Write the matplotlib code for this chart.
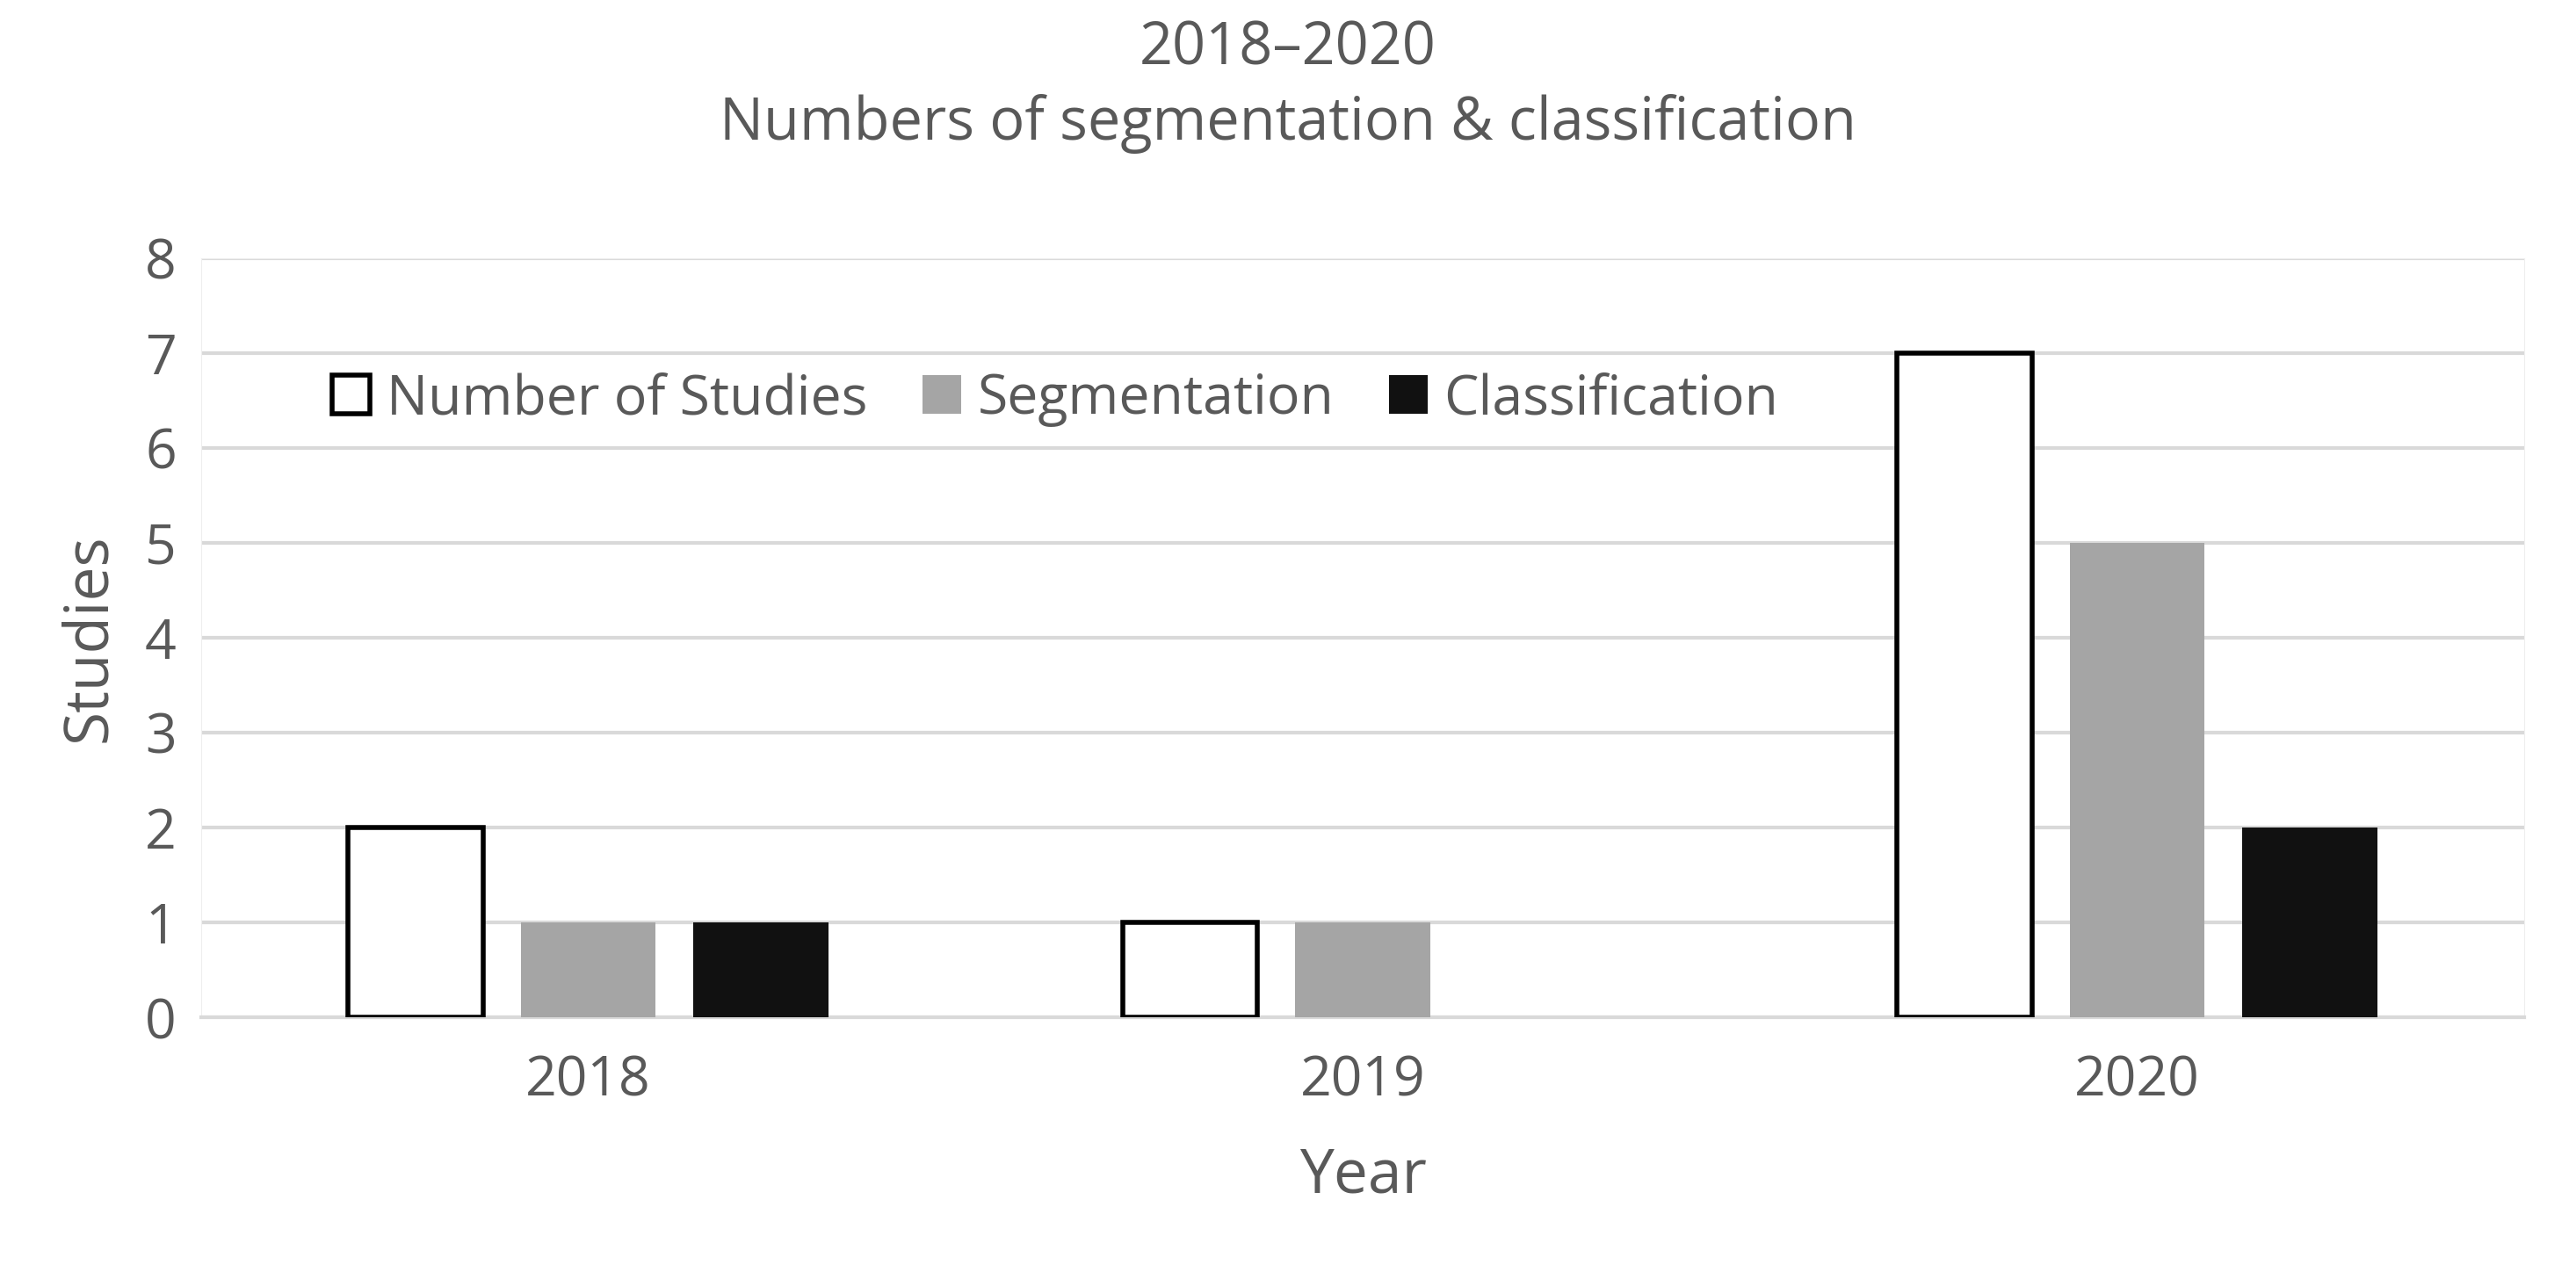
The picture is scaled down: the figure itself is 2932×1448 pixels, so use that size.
import matplotlib
matplotlib.use('Agg')
import matplotlib.pyplot as plt
import numpy as np

years = ['2018', '2019', '2020']
studies = [2, 1, 7]
segmentation = [1, 1, 5]
classification = [1, 0, 2]

plt.rcParams['font.family'] = ['Open Sans', 'DejaVu Sans']
txt = '#595959'

fig = plt.figure(figsize=(29.32, 14.48), dpi=100)
ax = fig.add_axes([0.078, 0.2, 0.902, 0.597])

x = np.arange(len(years))
w = 0.174
step = 0.223
ax.bar(x - step, studies, w, color='white', edgecolor='black', linewidth=4, label='Number of Studies', zorder=3)
ax.bar(x, segmentation, w, color='#a5a5a5', label='Segmentation', zorder=3)
ax.bar(x + step, classification, w, color='#111111', label='Classification', zorder=3)

ax.set_xlim(-0.5, 2.5)
ax.set_ylim(0, 8)
ax.set_yticks(range(9))
ax.set_xticks(x)
ax.set_xticklabels(years)
ax.grid(axis='y', color='#d9d9d9', linewidth=3, zorder=0)
for s in ['top', 'right', 'left']:
    ax.spines[s].set_color('#eeeeee')
ax.spines['bottom'].set_color('#d9d9d9')
ax.spines['bottom'].set_linewidth(3)
ax.tick_params(length=0, labelsize=45, colors=txt, pad=30)
ax.tick_params(axis='y', pad=20)
ax.set_xlabel('Year', fontsize=50, color=txt, labelpad=30)
ax.set_ylabel('Studies', fontsize=50, color=txt, labelpad=20)

fig.suptitle('2018–2020\nNumbers of segmentation & classification', fontsize=48, color=txt, y=0.985, linespacing=1.35)

ax.legend(loc='upper left', bbox_to_anchor=(0.035, 0.915), ncol=3, frameon=False, fontsize=45,
          labelcolor=txt, handlelength=0.7, handleheight=0.7, handletextpad=0.3, columnspacing=1.0)

fig.savefig('out.png', dpi=100)
